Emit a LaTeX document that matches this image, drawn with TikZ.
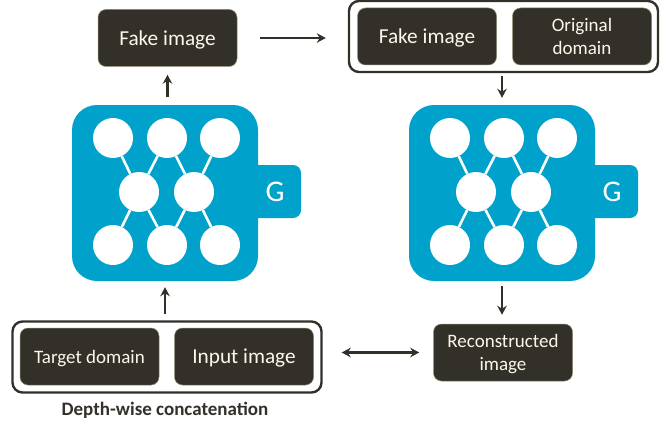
\documentclass[tikz,border=0pt]{standalone}
\usepackage{fontspec}
\setmainfont{Carlito}
\usetikzlibrary{arrows.meta}
\definecolor{boxdark}{HTML}{33302A}
\definecolor{boxedge}{HTML}{8F8A70}
\definecolor{netblue}{HTML}{00A1CB}
\definecolor{boxtext}{HTML}{FBF8EA}
\tikzset{
	darkbox/.style={draw=boxedge,line width=0.5pt,fill=boxdark,rounded corners=8pt,text=boxtext,minimum width=139pt,minimum height=57pt,align=center,inner sep=0pt,text depth=0pt,font=\fontsize{21.3}{23}\selectfont},
	framebox/.style={draw=boxdark,line width=2.4pt,fill=white,rounded corners=10pt,minimum width=309pt,minimum height=71pt,inner sep=0pt},
	netbody/.style={fill=netblue,rounded corners=25pt,minimum width=186pt,minimum height=176pt,inner sep=0pt},
	nettab/.style={fill=netblue,rounded corners=8pt,minimum width=60pt,minimum height=53pt,inner sep=0pt},
	neuron/.style={circle,fill=white,minimum size=40pt,inner sep=0pt},
	wire/.style={draw=white,line width=2.6pt},
	link/.style={draw=boxdark,line width=2.6pt,-{Stealth[length=9pt,width=9.5pt]}},
}
\begin{document}
\begin{tikzpicture}[x=1pt,y=-1pt]
	\useasboundingbox (0,0) rectangle (668,425);

	\foreach \n/\dx in {L/0,R/337} {
		\node[nettab] (tab\n) at (271+\dx,191.5) {};
		\node[netbody] (body\n) at (165+\dx,193) {};
		\node[text=white,font=\fontsize{30}{30}\selectfont] (name\n) at (275+\dx,192) {G};

		\foreach \i/\x in {1/113,2/167,3/220} {
			\node[neuron] (top\n\i) at (\x+\dx,138) {};
			\node[neuron] (bot\n\i) at (\x+\dx,245) {};
		}
		\node[neuron] (mid\n1) at (139+\dx,192) {};
		\node[neuron] (mid\n2) at (194+\dx,192) {};

		\foreach \i/\j in {1/1,2/1,2/2,3/2} {
			\draw[wire] (top\n\i) -- (mid\n\j);
			\draw[wire] (bot\n\i) -- (mid\n\j);
		}
	}

	\node[darkbox] (fakeL) at (167.5,38) {Fake image};

	\node[framebox] (pairR) at (503.5,36.5) {};
	\node[darkbox] (fakeR) at (427,36.5) {Fake image};
	\node[darkbox,font=\fontsize{19}{23}\selectfont] (origR) at (582,36.5) {Original\\domain};

	\node[darkbox,font=\fontsize{19}{23}\selectfont] (recon) at (503,352.5) {Reconstructed\\image};

	\node[framebox] (pairL) at (167,357) {};
	\node[darkbox,font=\fontsize{19}{23}\selectfont] (target) at (89.5,356.5) {Target domain};
	\node[darkbox] (input) at (244,356.5) {Input image};
	\node[text=boxdark,font=\fontsize{19}{23}\selectfont\bfseries] (caption) at (165,410) {Depth-wise concatenation};

	\draw[link,shorten <=8pt,shorten >=8pt] (bodyL.north -| fakeL.south) -- (fakeL.south);
	\draw[link,shorten <=6pt,shorten >=6pt] (bodyL.south |- pairL.north) -- (bodyL.south);
	\draw[link,shorten <=23pt,shorten >=22pt] (fakeL.east) -- (pairR.west |- fakeL.east);
	\draw[link,shorten <=3pt,shorten >=7pt] (pairR.south -| bodyR.north) -- (bodyR.north);
	\draw[link,shorten <=5pt,shorten >=9pt] (bodyR.south) -- (bodyR.south |- recon.north);
	\draw[link,{Stealth[length=9pt,width=9.5pt]}-{Stealth[length=9pt,width=9.5pt]},shorten <=19pt,shorten >=14pt] (pairL.east |- recon.west) -- (recon.west);
\end{tikzpicture}
\end{document}
